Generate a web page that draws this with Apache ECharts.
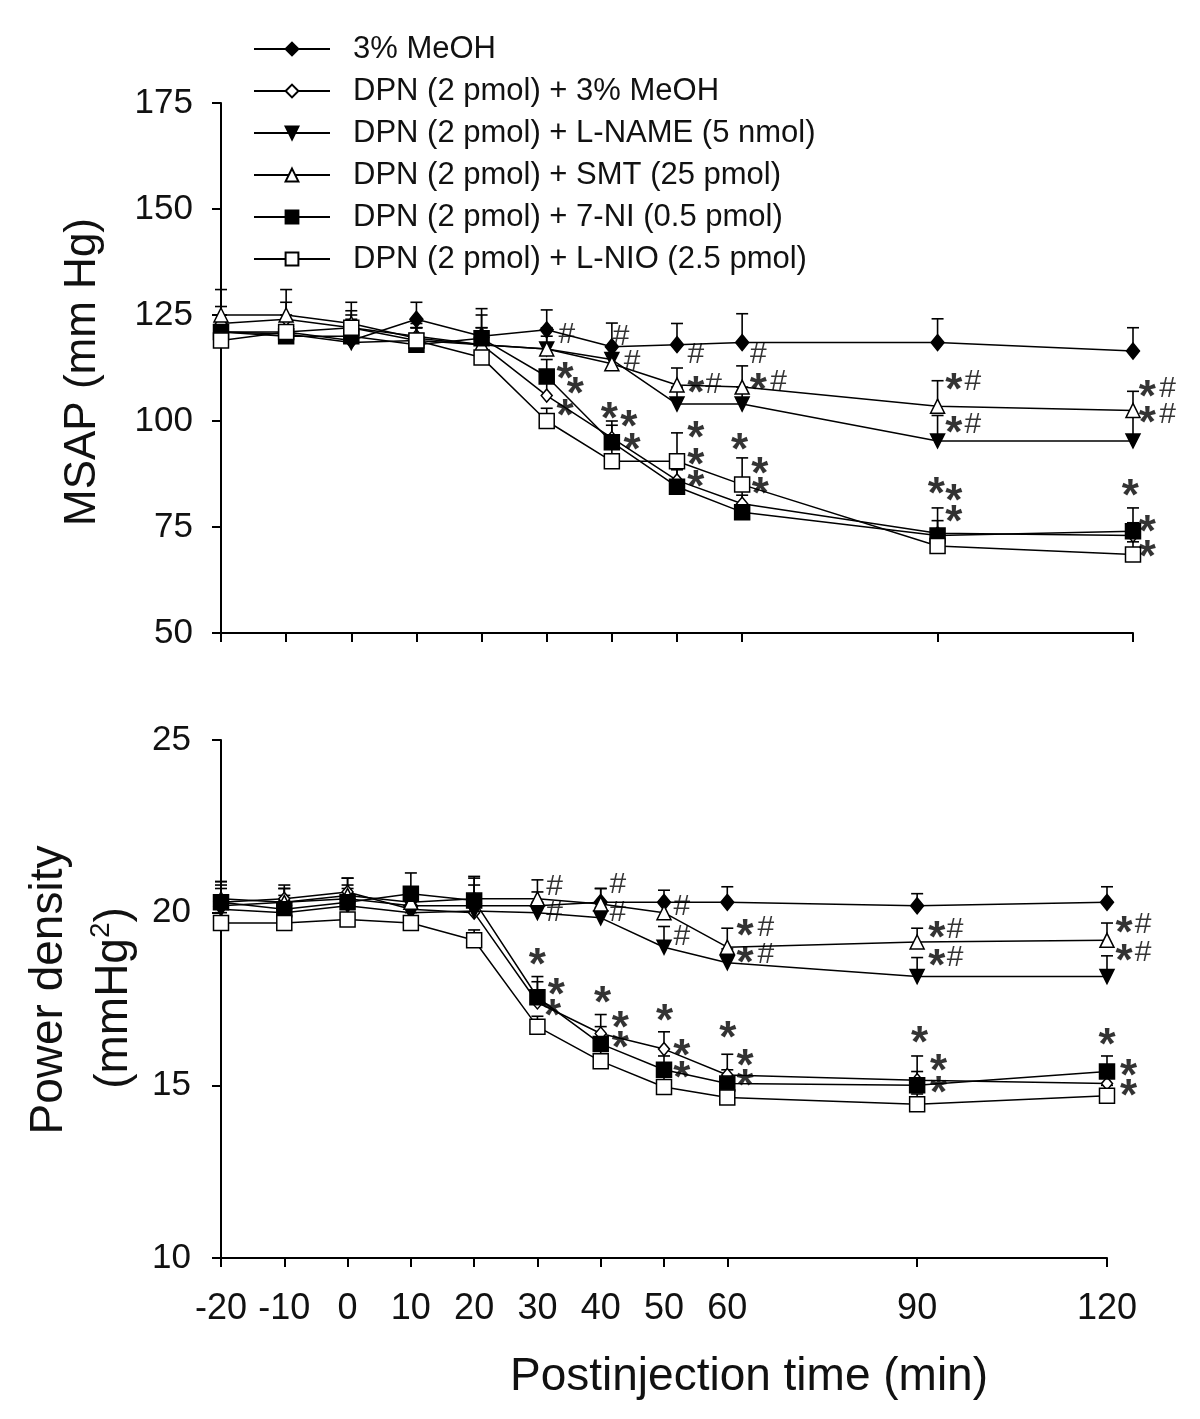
<!DOCTYPE html>
<html><head><meta charset="utf-8">
<script src="https://cdn.jsdelivr.net/npm/echarts@6/dist/echarts.min.js"></script>
<style>html,body{margin:0;padding:0;background:#fff}#c{width:1200px;height:1419px}</style>
</head><body><div id="c"></div>
<script>
const times = [-20, -10, 0, 10, 20, 30, 40, 50, 60, 90, 120];
const seriesNames = ['3% MeOH', 'DPN (2 pmol) + 3% MeOH', 'DPN (2 pmol) + L-NAME (5 nmol)', 'DPN (2 pmol) + SMT (25 pmol)', 'DPN (2 pmol) + 7-NI (0.5 pmol)', 'DPN (2 pmol) + L-NIO (2.5 pmol)'];
const msapTicks = [50, 75, 100, 125, 150, 175];
const powerTicks = [10, 15, 20, 25];

// MSAP (mm Hg) means
const msapMeOH = [121, 121, 119, 124, 120, 121.5, 117.5, 118, 118.5, 118.5, 116.5];
const msapDPN = [123, 124, 122, 120, 118, 106, 96, 86, 80.5, 73.5, 73];
const msapLNAME = [121, 120.5, 118.5, 119, 118, 117, 114.5, 104, 104, 95.3, 95.3];
const msapSMT = [125, 125, 123, 119.5, 118, 117, 113.5, 108.5, 108, 103.5, 102.5];
const msap7NI = [121, 120, 120, 118, 119.5, 110.5, 95, 84.5, 78.5, 73, 74];
const msapLNIO = [119, 121, 122, 119, 115, 100, 90.5, 90.5, 85, 70.5, 68.5];
// MSAP SEM (upper bars)
const msapErrMeOH = [4, 4, 4, 4, 5, 4.7, 5.6, 5, 6.8, 5.6, 5.5];
const msapErrDPN = [4, 4, 4, 3, 4, 5, 4, 3, 3, 3, 3];
const msapErrLNAME = [3, 3, 3, 3, 3, 3, 3, 4, 4, 6, 6];
const msapErrSMT = [6, 6, 5, 4, 4, 5, 4, 4, 5, 6, 4.5];
const msapErr7NI = [4, 4, 4, 4, 7, 4, 4, 4, 4, 6.5, 5.5];
const msapErrLNIO = [3, 3, 3, 3, 3, 3, 3, 6.7, 6.3, 3, 3];

// Power density (mmHg^2) means
const powMeOH = [20.2, 20.3, 20.4, 20.2, 20.2, 20.2, 20.3, 20.3, 20.3, 20.2, 20.3];
const powDPN = [20.3, 20.4, 20.6, 20.1, 20.0, 17.4, 16.5, 16.05, 15.3, 15.15, 15.05];
const powLNAME = [20.1, 20.0, 20.2, 20.0, 20.05, 20.0, 19.85, 19.0, 18.55, 18.15, 18.15];
const powSMT = [20.4, 20.3, 20.5, 20.3, 20.4, 20.4, 20.25, 20.0, 19.0, 19.15, 19.2];
const pow7NI = [20.3, 20.1, 20.3, 20.55, 20.35, 17.55, 16.2, 15.45, 15.05, 15.0, 15.4];
const powLNIO = [19.7, 19.7, 19.8, 19.7, 19.2, 16.7, 15.7, 14.95, 14.65, 14.45, 14.7];
// Power density SEM (upper bars)
const powErrMeOH = [0.5, 0.4, 0.4, 0.5, 0.6, 0.4, 0.4, 0.35, 0.45, 0.35, 0.45];
const powErrDPN = [0.5, 0.4, 0.4, 0.4, 0.5, 0.6, 0.55, 0.5, 0.6, 0.7, 0.4];
const powErrLNAME = [0.4, 0.3, 0.3, 0.3, 0.3, 0.3, 0.3, 0.6, 0.4, 0.55, 0.6];
const powErrSMT = [0.5, 0.4, 0.5, 0.4, 0.6, 0.55, 0.45, 0.3, 0.55, 0.4, 0.5];
const powErr7NI = [0.6, 0.4, 0.4, 0.6, 0.7, 0.6, 0.5, 0.4, 0.4, 0.4, 0.45];
const powErrLNIO = [0.3, 0.3, 0.3, 0.3, 0.3, 0.3, 0.3, 0.3, 0.3, 0.3, 0.3];

// significance marks, [time, value] where they sit
const msapStars = [[32.8,111.8],[34.4,108.3],[32.8,103.1],[39.6,102.4],[42.6,100.5],[43.1,95.0],[52.9,108.5],[52.9,97.9],[52.9,91.5],[52.9,86.3],[62.5,109.2],[59.6,95.0],[62.7,89.4],[62.8,84.7],[92.5,109.2],[92.5,99.1],[89.8,84.7],[92.5,83.0],[92.5,78.1],[122.2,107.5],[122.2,101.4],[119.6,84.2],[122.2,75.7],[122.2,69.8]];
const msapHashes = [[33.1,120.3],[41.4,119.8],[43.1,113.9],[52.9,115.6],[55.6,108.5],[62.5,115.6],[65.6,109.2],[95.4,109.2],[95.4,99.1],[125.3,107.5],[125.3,101.4]];
const powStars = [[30.0,18.72],[33.0,17.85],[32.4,17.24],[40.3,17.62],[43.1,16.89],[43.1,16.31],[50.1,17.10],[52.8,16.08],[52.8,15.44],[62.8,19.56],[62.8,18.77],[60.1,16.60],[62.8,15.79],[62.8,15.21],[93.1,19.50],[93.1,18.69],[90.4,16.46],[93.4,15.65],[93.4,15.01],[122.7,19.64],[122.7,18.83],[120.0,16.40],[123.4,15.50],[123.4,14.92]];
const powHashes = [[32.7,20.74],[32.7,19.99],[42.7,20.80],[42.7,19.99],[52.8,20.17],[52.8,19.30],[66.1,19.56],[66.1,18.77],[96.0,19.50],[96.0,18.69],[125.7,19.64],[125.7,18.83]];

const FONT = "'Liberation Sans', Arial, Helvetica, sans-serif";
const styles = [
  {symbol: 'diamond', size: [13, 16], fill: '#000', rotate: 0},
  {symbol: 'diamond', size: [11, 13], fill: '#fff', rotate: 0},
  {symbol: 'triangle', size: 14, fill: '#000', rotate: 180},
  {symbol: 'triangle', size: 14, fill: '#fff', rotate: 0},
  {symbol: 'rect', size: 15, fill: '#000', rotate: 0},
  {symbol: 'rect', size: 15, fill: '#fff', rotate: 0}
];
const msapData = [msapMeOH, msapDPN, msapLNAME, msapSMT, msap7NI, msapLNIO];
const msapErr = [msapErrMeOH, msapErrDPN, msapErrLNAME, msapErrSMT, msapErr7NI, msapErrLNIO];
const powData = [powMeOH, powDPN, powLNAME, powSMT, pow7NI, powLNIO];
const powErr = [powErrMeOH, powErrDPN, powErrLNAME, powErrSMT, powErr7NI, powErrLNIO];

function zip(vals) { return times.map((t, i) => [t, vals[i]]); }
function errItems(dataList, errList) {
  const out = [];
  dataList.forEach((vals, s) => vals.forEach((v, i) => out.push([times[i], v, errList[s][i]])));
  return out;
}
function errRender(params, api) {
  const x = api.value(0), y = api.value(1), e = api.value(2);
  const p0 = api.coord([x, y]);
  const p1 = api.coord([x, y + e]);
  const cw = 6;
  return {type: 'group', children: [
    {type: 'line', shape: {x1: p0[0], y1: p0[1], x2: p1[0], y2: p1[1]}, style: {stroke: '#000', lineWidth: 1.6}},
    {type: 'line', shape: {x1: p1[0] - cw, y1: p1[1], x2: p1[0] + cw, y2: p1[1]}, style: {stroke: '#000', lineWidth: 1.6}}
  ]};
}
function lineSeries(dataList, axisIdx) {
  return dataList.map((vals, s) => ({
    name: seriesNames[s], type: 'line', xAxisIndex: axisIdx, yAxisIndex: axisIdx,
    data: zip(vals), symbol: styles[s].symbol, symbolSize: styles[s].size, symbolRotate: styles[s].rotate,
    showAllSymbol: true, z: 3 + s, animation: false,
    lineStyle: {color: '#000', width: 1.5},
    itemStyle: {color: styles[s].fill, borderColor: '#000', borderWidth: 1.5, opacity: 1}
  }));
}
function markSeries(pts, text, axisIdx, size, dy, weight) {
  return {
    type: 'scatter', xAxisIndex: axisIdx, yAxisIndex: axisIdx, data: pts, symbolSize: 0, clip: false,
    z: 20, animation: false, silent: true, legendHoverLink: false,
    label: {show: true, position: 'inside', formatter: text, color: '#000', fontFamily: FONT, fontSize: size, fontWeight: weight, offset: [0, dy]}
  };
}
const axisLine = {onZero: false, lineStyle: {color: '#000', width: 2}};
const axisTick = {show: true, inside: false, length: 9, lineStyle: {color: '#000', width: 2}};

const chart = echarts.init(document.getElementById('c'), null, {renderer: 'canvas'});
chart.setOption({
  backgroundColor: '#fff',
  animation: false,
  grid: [
    {left: 221, right: 67, top: 103, height: 530},
    {left: 221, right: 93, top: 740, height: 518}
  ],
  legend: {
    data: seriesNames, orient: 'vertical', left: 248, top: 27, itemWidth: 76, itemHeight: 16, itemGap: 8,
    textStyle: {fontFamily: FONT, fontSize: 31, color: '#111', lineHeight: 34, padding: [0, 0, 0, 18]},
    selectedMode: false
  },
  xAxis: [
    {type: 'value', gridIndex: 0, min: -20, max: 120, interval: 10, axisLine, axisTick: Object.assign({customValues: times}, axisTick),
      axisLabel: {show: false}, splitLine: {show: false}},
    {type: 'value', gridIndex: 1, min: -20, max: 120, interval: 10, axisLine, axisTick: Object.assign({customValues: times}, axisTick),
      axisLabel: {customValues: times, fontFamily: FONT, fontSize: 36, color: '#111', margin: 33}, splitLine: {show: false}}
  ],
  yAxis: [
    {type: 'value', gridIndex: 0, min: 50, max: 175, interval: 25, axisLine: Object.assign({show: true}, axisLine), axisTick,
      axisLabel: {customValues: msapTicks, fontFamily: FONT, fontSize: 35, color: '#111', margin: 28}, splitLine: {show: false}},
    {type: 'value', gridIndex: 1, min: 10, max: 25, interval: 5, axisLine: Object.assign({show: true}, axisLine), axisTick,
      axisLabel: {customValues: powerTicks, fontFamily: FONT, fontSize: 35, color: '#111', margin: 30}, splitLine: {show: false}}
  ],
  graphic: [
    {type: 'text', x: 83, y: 372, rotation: Math.PI / 2, style: {text: 'MSAP (mm Hg)', font: '44px ' + FONT, fill: '#111', textAlign: 'center', textVerticalAlign: 'middle'}},
    {type: 'text', x: 49, y: 990, rotation: Math.PI / 2, style: {text: 'Power density', font: '46px ' + FONT, fill: '#111', textAlign: 'center', textVerticalAlign: 'middle'}},
    {type: 'text', x: 112, y: 998, rotation: Math.PI / 2, style: {
      text: '{a|(mmHg}{s|2}{a|)}', textAlign: 'center', textVerticalAlign: 'middle', fill: '#111',
      rich: {a: {fontFamily: FONT, fontSize: 46, lineHeight: 50, verticalAlign: 'bottom'}, s: {fontFamily: FONT, fontSize: 28, lineHeight: 50, verticalAlign: 'top', padding: [0, 0, 0, 0]}}
    }},
    {type: 'text', x: 749, y: 1377, style: {text: 'Postinjection time (min)', font: '46px ' + FONT, fill: '#111', textAlign: 'center', textVerticalAlign: 'middle'}}
  ],
  series: [
    {type: 'custom', xAxisIndex: 0, yAxisIndex: 0, data: errItems(msapData, msapErr), renderItem: errRender, encode: {x: 0, y: 1}, z: 2, silent: true, animation: false},
    {type: 'custom', xAxisIndex: 1, yAxisIndex: 1, data: errItems(powData, powErr), renderItem: errRender, encode: {x: 0, y: 1}, z: 2, silent: true, animation: false},
    ...lineSeries(msapData, 0),
    ...lineSeries(powData, 1),
    markSeries(msapStars, '*', 0, 44, 10, 'bold'),
    markSeries(msapHashes, '#', 0, 30, 0, 'normal'),
    markSeries(powStars, '*', 1, 44, 10, 'bold'),
    markSeries(powHashes, '#', 1, 30, 0, 'normal')
  ]
});
</script></body></html>
